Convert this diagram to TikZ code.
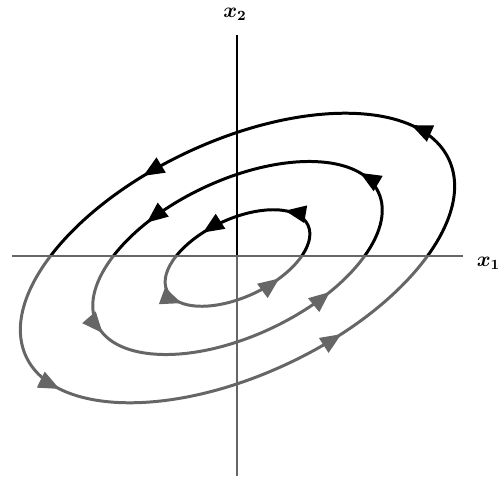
\documentclass[tikz,border=0pt]{standalone}
\usepackage{amsmath,bm}
\usetikzlibrary{arrows.meta,decorations.markings}
\definecolor{lowgray}{rgb}{0.40,0.40,0.40}

\begin{document}
\begin{tikzpicture}[
  ax/.style={line width=1.3pt},
  orb/.style={line width=1.7pt},
  flow/.style n args={4}{postaction={decorate},decoration={markings,
    mark=at position #1 with {\arrow{Triangle[length=4.2mm,width=3.4mm]}},
    mark=at position #2 with {\arrow{Triangle[length=4.2mm,width=3.4mm]}},
    mark=at position #3 with {\arrow{Triangle[length=4.2mm,width=3.4mm]}},
    mark=at position #4 with {\arrow{Triangle[length=4.2mm,width=3.4mm]}}}},
  lab/.style={font=\large}]
 \useasboundingbox (-4.74,-4.40) rectangle (5.28,5.12);

 % ---- axes ----
 \coordinate (o) at (0,0);
 \coordinate (yt) at (0,4.42);
 \coordinate (yb) at (0,-4.40);
 \coordinate (xl) at (-4.50,0);
 \coordinate (xr) at (4.52,0);
 \node[lab,anchor=base] (x2) at (-0.04,4.78) {$\bm{x_2}$};
 \node[lab,anchor=base] (x1) at (5.03,-0.20) {$\bm{x_1}$};

 % ---- orbits: black above the x1 axis, gray below ----
 \foreach \ys/\col in {1/black,-1/lowgray}{
  \begin{scope}[\col]
   \clip (-4.74,0) rectangle (5.28,{5.12*\ys});
   \begin{scope}[shift={(0.01,-0.04)},rotate=25]
    \foreach \r/\p/\q/\s/\u in {1/.075/.305/.552/.828,2/.036/.340/.515/.843,3/.046/.295/.542/.805}
     \draw[orb,flow={\p}{\q}{\s}{\u}] (0,0) ellipse ({1.555*\r} and {0.78*\r});
   \end{scope}
  \end{scope}
 }
 \draw[ax,black] (o) -- (yt);
 \draw[ax,lowgray] (o) -- (yb);
 \draw[ax,lowgray] (xl) -- (xr);
\end{tikzpicture}
\end{document}
